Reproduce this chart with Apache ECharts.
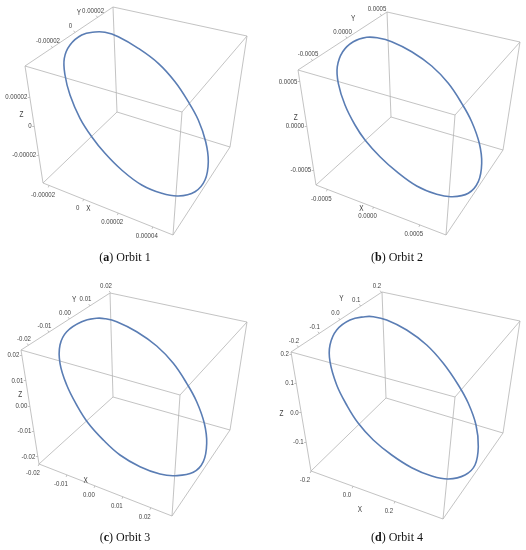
<!DOCTYPE html>
<html><head><meta charset="utf-8">
<script src="https://cdn.jsdelivr.net/npm/echarts@6/dist/echarts.min.js"></script>
<style>html,body{margin:0;padding:0;background:#fff}#c{width:526px;height:550px}</style>
</head><body><div id="c"></div>
<script>
// ---------------- DATA ----------------
const captionLetters = ['a', 'b', 'c', 'd'];
const captionTitles = ['Orbit 1', 'Orbit 2', 'Orbit 3', 'Orbit 4'];

// axis ranges (value at the two ends of each box edge) and ticks, per panel
const xRange1 = [-0.0000235, 0.0000517], yRange1 = [-0.0000443, 0.0000338], zRange1 = [-0.0000393, 0.0000414];
const xTicks1 = [-0.00002, 0, 0.00002, 0.00004], xLabels1 = ['-0.00002', '0', '0.00002', '0.00004'];
const yTicks1 = [-0.00002, 0, 0.00002], yLabels1 = ['-0.00002', '0', '0.00002'];
const zTicks1 = [-0.00002, 0, 0.00002], zLabels1 = ['-0.00002', '0', '0.00002'];

const xRange2 = [-0.000622, 0.000784], yRange2 = [-0.000709, 0.000581], zRange2 = [-0.000669, 0.000633];
const xTicks2 = [-0.0005, 0, 0.0005], xLabels2 = ['-0.0005', '0.0000', '0.0005'];
const yTicks2 = [-0.0005, 0, 0.0005], yLabels2 = ['-0.0005', '0.0000', '0.0005'];
const zTicks2 = [-0.0005, 0, 0.0005], zLabels2 = ['-0.0005', '0.0000', '0.0005'];

const xRange3 = [-0.02, 0.0276], yRange3 = [-0.0236, 0.0198], zRange3 = [-0.02287, 0.02197];
const xTicks3 = [-0.02, -0.01, 0, 0.01, 0.02], xLabels3 = ['-0.02', '-0.01', '0.00', '0.01', '0.02'];
const yTicks3 = [-0.02, -0.01, 0, 0.01, 0.02], yLabels3 = ['-0.02', '-0.01', '0.00', '0.01', '0.02'];
const zTicks3 = [-0.02, -0.01, 0, 0.01, 0.02], zLabels3 = ['-0.02', '-0.01', '0.00', '0.01', '0.02'];

const xRange4 = [-0.2, 0.429], yRange4 = [-0.2355, 0.203], zRange4 = [-0.2, 0.207];
const xTicks4 = [-0.2, 0, 0.2], xLabels4 = ['-0.2', '0.0', '0.2'];
const yTicks4 = [-0.2, -0.1, 0, 0.1, 0.2], yLabels4 = ['-0.2', '-0.1', '0.0', '0.1', '0.2'];
const zTicks4 = [-0.1, 0, 0.1, 0.2], zLabels4 = ['-0.1', '0.0', '0.1', '0.2'];

// orbit traces (projected plane of each panel)
const orbit1 = [[95,32],[81.7,35],[70,45],[64.3,58.3],[65,75],[70,95],[80,118.3],[91.7,136.7],[105,153.3],[121.7,170],[141.7,185],[161.7,193.3],[178.3,196],[195,191.7],[205,180],[208.3,161.7],[205.7,141.7],[198.3,120],[188.3,101.7],[175,81.7],[158.3,63.3],[138.3,48.3],[118.3,36.7],[105,32.3]];
const orbit2 = [[103.7,37.3],[90.3,41.7],[79.7,51.7],[74.3,66.7],[75.3,83.3],[82,105],[92,125],[102,140],[117,156.7],[133.7,171.7],[153.7,186],[173.7,194.3],[188.7,196.7],[205.3,193.3],[215.3,181.7],[218.7,163.3],[216.3,143.3],[208.7,121.7],[198.7,103.3],[185.3,83.3],[168.7,66],[148.7,51.7],[128.7,41.7],[115.3,38]];
const orbit3 = [[96.7,58.3],[81.7,61.7],[66.7,71.7],[60,85],[60,103.3],[66.7,125],[76.7,145],[88.3,163.3],[103.3,180],[120,195],[140,206.7],[160,214],[175,215.7],[193.3,212.3],[203.3,201.7],[206.7,183.3],[204.3,163.3],[196.7,141.7],[186.7,123.3],[173.3,103.3],[156.7,86],[136.7,71.7],[116.7,61.7],[105,58.7]];
const orbit4 = [[102,56.7],[87,60],[73.7,70],[67,85],[67,101.7],[73.7,125],[83.7,145],[95.3,163.3],[110.3,180],[128.7,195],[148.7,207.7],[168.7,216],[185.3,219],[202,215],[212,205],[215.3,186.7],[213,165],[205.3,143.3],[195.3,125],[180.3,103.3],[163.7,85],[143.7,70],[123.7,60],[110.3,56.7]];

// ---------------- LAYOUT ----------------
const PW = 263, PH = 260;
const layout = [
  { left: 0, top: 0, verts: {TL:[25,66],TB:[113,7],TR:[247,36],TF:[182,112],BL:[43,183],BB:[117,112],BR:[230,147],BF:[173,235]},
    names: {X:[0.35,0,7], Y:[0.7,-7.6,-12], Z:[0.58,-11,0]} },
  { left: 263, top: 0, verts: {TL:[35,70],TB:[124,12],TR:[257,42],TF:[192,115],BL:[53,185],BB:[128,117],BR:[240,150],BF:[183,235]},
    names: {X:[0.35,0,6], Y:[0.62,0,-15.7], Z:[0.589,-9.7,0]} },
  { left: 0, top: 260, verts: {TL:[21,90],TB:[110,33],TR:[247,62],TF:[180,135],BL:[39,204],BB:[113,137],BR:[230,170],BF:[172,256]},
    names: {X:[0.33,2.8,-0.5], Y:[0.596,0,-16.7], Z:[0.605,-8,0]} },
  { left: 263, top: 260, verts: {TL:[28,92],TB:[119,32],TR:[257,61],TF:[192,137],BL:[48,211],BB:[123,138],BR:[240,173],BF:[180,259]},
    names: {X:[0.37,0,21], Y:[0.553,0,-20.5], Z:[0.479,-20,0]} }
];
const axesData = [
  {x:[xRange1,xTicks1,xLabels1], y:[yRange1,yTicks1,yLabels1], z:[zRange1,zTicks1,zLabels1]},
  {x:[xRange2,xTicks2,xLabels2], y:[yRange2,yTicks2,yLabels2], z:[zRange2,zTicks2,zLabels2]},
  {x:[xRange3,xTicks3,xLabels3], y:[yRange3,yTicks3,yLabels3], z:[zRange3,zTicks3,zLabels3]},
  {x:[xRange4,xTicks4,xLabels4], y:[yRange4,yTicks4,yLabels4], z:[zRange4,zTicks4,zLabels4]}
];
const orbits = [orbit1, orbit2, orbit3, orbit4];
const EDGES = [['TL','TB'],['TB','TR'],['TR','TF'],['TF','TL'],['BL','BB'],['BB','BR'],['BR','BF'],['BF','BL'],['TL','BL'],['TB','BB'],['TR','BR'],['TF','BF']];
const AXIS_EDGE = {
  x: {from:'BL', to:'BF', off:[-6,9], tick:[-0.8,2], align:'center'},
  y: {from:'TL', to:'TB', off:[-4.4,-6.7], tick:[-1.2,-1.8], align:'center'},
  z: {from:'BL', to:'TL', off:[-2.5,0], tick:[-2,0], align:'right'}
};
const TICK_FONT = '"Liberation Sans",Arial,sans-serif';
const SERIF = '"Liberation Serif","DejaVu Serif",serif';
const lerp = (a, b, t) => [a[0] + (b[0] - a[0]) * t, a[1] + (b[1] - a[1]) * t];

const grid = [], xAxis = [], yAxis = [], series = [], graphic = [];
layout.forEach((p, i) => {
  grid.push({left: p.left, top: p.top, width: PW, height: PH});
  xAxis.push({gridIndex: i, type: 'value', min: 0, max: PW, show: false});
  yAxis.push({gridIndex: i, type: 'value', min: 0, max: PH, inverse: true, show: false});
  const V = p.verts;
  series.push({
    type: 'lines', coordinateSystem: 'cartesian2d', xAxisIndex: i, yAxisIndex: i, silent: true, z: 1,
    lineStyle: {color: '#b4b4b4', width: 0.8, opacity: 1},
    data: EDGES.map(e => ({coords: [V[e[0]], V[e[1]]]}))
  });
  const labelItems = [], tickSegs = [];
  ['x','y','z'].forEach(ax => {
    const [range, ticks, labels] = axesData[i][ax];
    const E = AXIS_EDGE[ax];
    ticks.forEach((v, k) => {
      const t = (v - range[0]) / (range[1] - range[0]);
      const P = lerp(V[E.from], V[E.to], t);
      tickSegs.push({coords: [P, [P[0] + E.tick[0], P[1] + E.tick[1]]]});
      labelItems.push({name: labels[k], value: [P[0] + E.off[0], P[1] + E.off[1]], align: E.align, size: 8});
    });
    const nm = p.names[ax.toUpperCase()];
    const Q = lerp(V[E.from], V[E.to], nm[0]);
    labelItems.push({name: ax.toUpperCase(), value: [Q[0] + nm[1], Q[1] + nm[2]], align: 'center', size: 8.5});
  });
  series.push({
    type: 'lines', coordinateSystem: 'cartesian2d', xAxisIndex: i, yAxisIndex: i, silent: true, z: 1,
    lineStyle: {color: '#a8a8a8', width: 0.7, opacity: 1}, data: tickSegs
  });
  const o = orbits[i];
  series.push({
    type: 'custom', coordinateSystem: 'cartesian2d', xAxisIndex: i, yAxisIndex: i, silent: true, z: 3, clip: false,
    data: o,
    renderItem: (params, api) => {
      if (params.dataIndex !== 0) return null;
      const pts = o.map(q => api.coord(q));
      return {type: 'polygon', shape: {points: pts, smooth: 0.4},
              style: {fill: 'none', stroke: '#5a7db4', lineWidth: 1.6}};
    }
  });
  series.push({
    type: 'custom', coordinateSystem: 'cartesian2d', xAxisIndex: i, yAxisIndex: i, silent: true, z: 4, clip: false,
    data: labelItems.map(d => d.value),
    renderItem: (params, api) => {
      const it = labelItems[params.dataIndex];
      const pt = api.coord([api.value(0), api.value(1)]);
      return {type: 'text', x: pt[0], y: pt[1], scaleX: 0.76,
              style: {text: it.name, fontFamily: TICK_FONT, fontSize: it.size, fill: '#454545',
                      align: it.align, verticalAlign: 'middle'}};
    }
  });
  graphic.push({
    type: 'text', x: p.left + (i % 2 === 0 ? 125 : 134), y: p.top + (i < 2 ? 258 : 278),
    style: {
      text: '({b|' + captionLetters[i] + '}) ' + captionTitles[i],
      rich: {b: {fontWeight: 'bold', fontFamily: SERIF, fontSize: 12, fill: '#111'}},
      fontFamily: SERIF, fontSize: 12, fill: '#111',
      align: 'center', verticalAlign: 'middle'
    }
  });
});

const chart = echarts.init(document.getElementById('c'));
chart.setOption({animation: false, grid, xAxis, yAxis, series, graphic});
</script></body></html>
